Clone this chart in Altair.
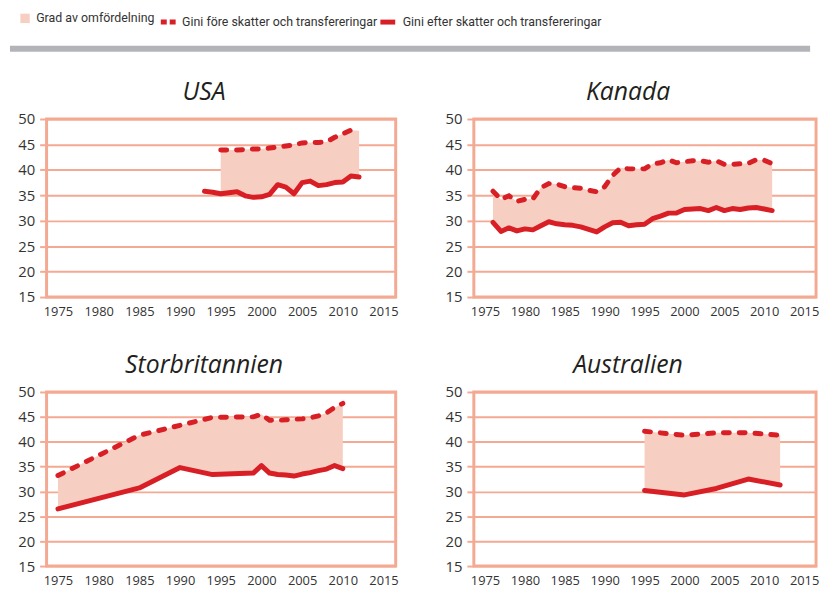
import altair as alt
import pandas as pd

# ---------------- data ----------------
LABEL_AREA = "Grad av omfördelning"
LABEL_PRE = "Gini före skatter och transfereringar"
LABEL_POST = "Gini efter skatter och transfereringar"

usa_years = list(range(1993, 2013))
usa_pre = [None, None, 43.9, 43.9, 43.9, 44.0, 44.1, 44.1, 44.3, 44.5,
           44.7, 44.9, 45.3, 45.4, 45.4, 45.5, 46.4, 47.1, 47.8, 47.7]
usa_post = [35.8, 35.6, 35.3, 35.5, 35.7, 34.9, 34.6, 34.7, 35.2, 37.1,
            36.6, 35.3, 37.5, 37.8, 36.9, 37.1, 37.5, 37.6, 38.8, 38.6]

can_years = list(range(1976, 2012))
can_pre = [35.8, 34.2, 34.9, 33.8, 34.2, 34.3, 36.5, 37.3, 37.2, 36.7,
           36.5, 36.4, 36.0, 35.7, 36.7, 38.9, 40.4, 40.2, 40.2, 40.2,
           41.2, 41.4, 42.0, 41.4, 41.6, 41.8, 41.8, 41.5, 41.8, 41.1,
           41.1, 41.2, 41.3, 42.0, 41.9, 41.2]
can_post = [29.7, 27.9, 28.6, 28.0, 28.4, 28.2, 29.0, 29.8, 29.4, 29.2,
            29.1, 28.8, 28.3, 27.8, 28.8, 29.6, 29.7, 29.0, 29.2, 29.3,
            30.4, 30.9, 31.5, 31.5, 32.2, 32.3, 32.4, 32.0, 32.6, 32.0,
            32.4, 32.2, 32.5, 32.6, 32.3, 32.0]

gbr_years = [1975, 1985, 1990, 1994, 1999, 2000, 2001, 2002, 2003, 2004,
             2005, 2006, 2007, 2008, 2009, 2010]
gbr_pre = [33.2, 41.3, 43.3, 44.9, 45.0, 45.5, 44.3, 44.3, 44.4, 44.5,
           44.6, 44.8, 45.2, 45.8, 46.9, 47.7]
gbr_post = [26.5, 30.7, 34.8, 33.4, 33.7, 35.2, 33.7, 33.4, 33.3, 33.1,
            33.5, 33.8, 34.2, 34.5, 35.2, 34.6]

aus_years = [1995, 2000, 2004, 2008, 2012]
aus_pre = [42.1, 41.3, 41.8, 41.8, 41.3]
aus_post = [30.2, 29.3, 30.6, 32.5, 31.3]

x_ticks = [1975, 1980, 1985, 1990, 1995, 2000, 2005, 2010, 2015]
y_ticks = [15, 20, 25, 30, 35, 40, 45, 50]

# ---------------- style ----------------
RED = "#d81f26"
AREA = "#f7cfc2"
FRAME = "#f4a993"
GRAY = "#b3b4b8"
TXT = "#333333"
NUM_FONT = "Open Sans"
LEG_FONT = "Roboto"

XDOM = [1973.6, 2016.5]
YDOM = [15, 50]


def panel(name, years, pre, post, w, h):
    df = pd.DataFrame({"year": years, "pre": pre, "post": post})
    df["a"] = LABEL_AREA
    df["b"] = LABEL_PRE
    df["c"] = LABEL_POST
    xax = alt.Axis(values=x_ticks, format="d", ticks=False, domain=False,
                   grid=False, labelPadding=9, labelFont=NUM_FONT,
                   labelFontSize=13, labelColor=TXT, labelFlush=False,
                   title=None)
    yax = alt.Axis(values=y_ticks, tickSize=7, tickColor=FRAME, tickWidth=2,
                   domain=False, grid=True, gridColor=FRAME, gridWidth=2,
                   labelPadding=5, labelFont=NUM_FONT, labelFontSize=15,
                   labelColor=TXT, minExtent=37, title=None)
    x = alt.X("year:Q", scale=alt.Scale(domain=XDOM, nice=False, zero=False),
              axis=xax)
    ysc = alt.Scale(domain=YDOM, nice=False, zero=False)

    leg_a = alt.Legend(orient="none", legendX=-28, legendY=0,
                       symbolType="square", symbolSize=90,
                       symbolStrokeWidth=0, labelOffset=5, title=None)
    leg_b = alt.Legend(orient="none", legendX=113, legendY=0,
                       symbolType="stroke", symbolSize=225,
                       symbolStrokeWidth=5, symbolDash=[6, 3], labelOffset=4,
                       title=None)
    leg_c = alt.Legend(orient="none", legendX=335, legendY=0,
                       symbolType="stroke", symbolSize=225,
                       symbolStrokeWidth=5, labelOffset=5, title=None)

    base = alt.Chart(df)
    area = base.transform_filter(
        "isValid(datum.pre) && isValid(datum.post)"
    ).mark_area(opacity=1).encode(
        x=x,
        y=alt.Y("pre:Q", scale=ysc, axis=yax),
        y2="post:Q",
        fill=alt.Fill("a:N", scale=alt.Scale(domain=[LABEL_AREA], range=[AREA]),
                      legend=leg_a),
    )
    dashed = base.transform_filter("isValid(datum.pre)").mark_line(
        strokeWidth=5, strokeDash=[6, 10], strokeCap="round"
    ).encode(
        x=x,
        y=alt.Y("pre:Q", scale=ysc, axis=yax),
        stroke=alt.Stroke("b:N", scale=alt.Scale(domain=[LABEL_PRE], range=[RED]),
                          legend=leg_b),
    )
    solid = base.transform_filter("isValid(datum.post)").mark_line(
        strokeWidth=5, strokeCap="round", strokeJoin="round"
    ).encode(
        x=x,
        y=alt.Y("post:Q", scale=ysc, axis=yax),
        color=alt.Color("c:N", scale=alt.Scale(domain=[LABEL_POST], range=[RED]),
                        legend=leg_c),
    )
    return alt.layer(area, dashed, solid).properties(
        width=w, height=h,
        title=alt.TitleParams(name, font=NUM_FONT, fontSize=25,
                              fontStyle="italic", fontWeight="normal",
                              color="#231f20", anchor="middle",
                              frame="bounds", offset=7),
        view=alt.ViewBackground(stroke=FRAME, strokeWidth=3),
    )


header = alt.Chart(pd.DataFrame({"k": [0]})).mark_rect(color=GRAY).encode(
    x=alt.value(-37), x2=alt.value(772), y=alt.value(34), y2=alt.value(40)
).properties(width=700, height=40,
             view=alt.ViewBackground(stroke="transparent"))

p1 = panel("USA", usa_years, usa_pre, usa_post, 353, 180)
p2 = panel("Kanada", can_years, can_pre, can_post, 346, 180)
p3 = panel("Storbritannien", gbr_years, gbr_pre, gbr_post, 353, 176)
p4 = panel("Australien", aus_years, aus_pre, aus_post, 346, 176)

row1 = alt.hconcat(p1, p2, spacing=35)
row2 = alt.hconcat(p3, p4, spacing=35)
top = alt.vconcat(header, row1, spacing=26)

chart = alt.vconcat(top, row2, spacing=31).resolve_scale(
    fill="shared", stroke="shared", color="shared"
).properties(
    padding={"left": 0, "top": 0, "right": 0, "bottom": 0}
).configure_legend(
    labelFont=LEG_FONT, labelFontSize=12.5, labelColor=TXT, labelLimit=400,
    direction="horizontal"
).configure_view(stroke="transparent")

chart.save("out.html", embed_options={"renderer": "svg", "actions": False})
